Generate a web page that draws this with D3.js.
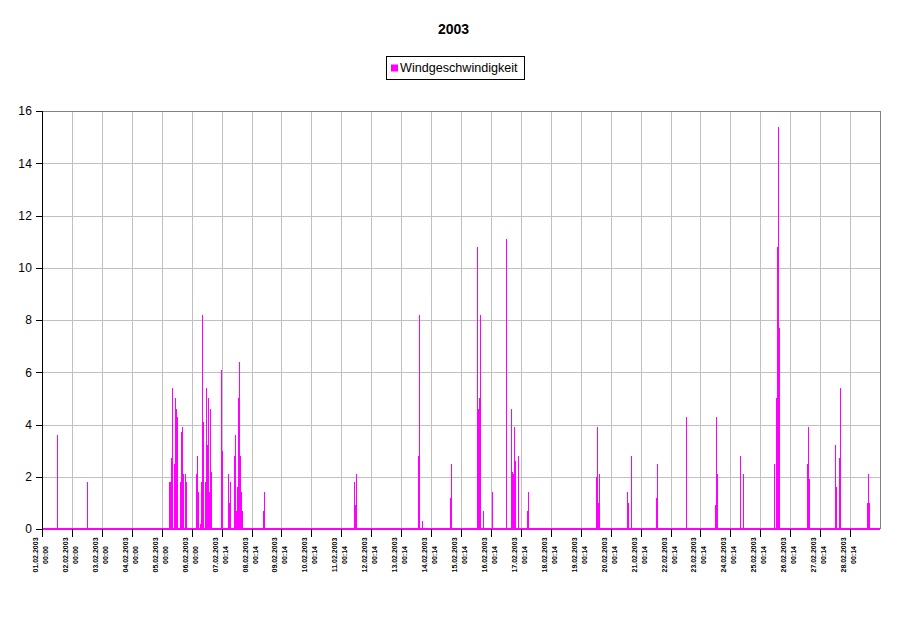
<!DOCTYPE html>
<html>
<head>
<meta charset="utf-8">
<script src="https://cdn.jsdelivr.net/npm/d3@7"></script>
<style>
  html, body { margin: 0; padding: 0; background: #fff; }
  svg { display: block; font-family: "Liberation Sans", Arial, sans-serif; }
</style>
</head>
<body>
<svg id="chart" width="909" height="634"></svg>
<script>
// ---- data ----
const title = "2003";
const seriesName = "Windgeschwindigkeit";
// hours since 01.02.2003 00:00 (only non-zero readings; all other readings are 0)
const hours = [12.0, 36.1,
  101.9, 102.7, 103.5, 104.3, 105.9, 106.7, 107.5, 108.3, 110.7, 111.5, 112.3, 113.1, 114.7, 115.5,
  123.5, 124.3, 125.1, 126.7, 127.5, 128.3, 129.1, 130.7, 131.5, 132.3, 133.1, 133.9, 134.7, 135.5,
  143.6, 144.4, 149.2, 150.0, 150.8, 154.0, 154.8, 155.6, 156.4, 157.2, 158.0, 158.8, 159.6, 160.4,
  177.2, 178.0, 250.2, 251.0, 251.8, 301.6, 302.4, 304.8, 327.2, 328.0,
  348.9, 349.7, 350.5, 351.3, 353.7, 360.9, 372.1, 376.1, 376.9, 377.7, 378.5, 379.3, 381.8, 389.0, 389.8,
  444.3, 445.1, 445.9, 446.7, 469.2, 470.0, 472.4, 492.4, 493.2, 516.5, 539.7, 540.5, 541.4, 559.8, 562.2,
  587.1, 588.7, 589.5, 590.3, 591.1, 613.5, 614.3, 615.1, 636.0, 636.8, 639.2, 640.0, 661.7, 662.5, 663.3];
const speeds = [3.6, 1.8,
  1.8, 1.8, 2.7, 5.4, 2.5, 5.0, 4.6, 4.3, 1.8, 3.7, 3.9, 2.1, 2.1, 1.8,
  2.1, 2.8, 1.4, 0.2, 1.8, 8.2, 4.1, 1.8, 5.4, 3.2, 5.0, 1.4, 4.6, 2.2,
  6.1, 3.0, 2.1, 1.0, 1.8, 2.8, 3.6, 0.7, 1.6, 5.0, 6.4, 2.8, 1.4, 0.7,
  0.7, 1.4, 1.8, 0.9, 2.1, 2.8, 8.2, 0.3, 1.2, 2.5,
  10.8, 4.6, 5.0, 8.2, 0.7, 1.4, 11.1, 4.6, 2.2, 2.1, 3.9, 2.6, 2.8, 0.7, 1.4,
  2.0, 3.9, 1.0, 2.1, 1.4, 1.0, 2.8, 1.2, 2.5, 4.3, 0.9, 4.3, 2.1, 2.8, 2.1,
  2.5, 5.0, 10.8, 15.4, 7.7, 2.5, 3.9, 1.9, 3.2, 1.6, 2.7, 5.4, 1.0, 2.1, 1.0];
const totalHours = 672;
const tickDates = ["01.02.2003","02.02.2003","03.02.2003","04.02.2003","05.02.2003","06.02.2003","07.02.2003",
  "08.02.2003","09.02.2003","10.02.2003","11.02.2003","12.02.2003","13.02.2003","14.02.2003",
  "15.02.2003","16.02.2003","17.02.2003","18.02.2003","19.02.2003","20.02.2003","21.02.2003",
  "22.02.2003","23.02.2003","24.02.2003","25.02.2003","26.02.2003","27.02.2003","28.02.2003"];
const tickTimes = ["00:00","00:00","00:00","00:00","00:00","00:00","00:14",
  "00:14","00:14","00:14","00:14","00:14","00:14","00:14",
  "00:14","00:14","00:14","00:14","00:14","00:14","00:14",
  "00:14","00:14","00:14","00:14","00:14","00:14","00:14"];
const yTicks = [0, 2, 4, 6, 8, 10, 12, 14, 16];

// ---- layout ----
const mLeft = 42, mRight = 880, mTop = 111, mBottom = 529;
const color = "#FF00FF";
const svg = d3.select("#chart");

const x = d3.scaleLinear().domain([0, totalHours]).range([mLeft, mRight]);
const y = d3.scaleLinear().domain([0, 16]).range([mBottom, mTop]);
const tickHours = tickDates.map((d, i) => i * 24);

// grid
const grid = svg.append("g").attr("shape-rendering", "crispEdges");
grid.selectAll("line.h").data(yTicks.filter(v => v > 0 && v < 16)).join("line")
  .attr("x1", mLeft).attr("x2", mRight)
  .attr("y1", d => Math.round(y(d)) + 0.5).attr("y2", d => Math.round(y(d)) + 0.5)
  .attr("stroke", "#c0c0c0");
grid.selectAll("line.v").data(tickHours.slice(1)).join("line")
  .attr("x1", d => Math.round(x(d)) + 0.5).attr("x2", d => Math.round(x(d)) + 0.5)
  .attr("y1", mTop).attr("y2", mBottom)
  .attr("stroke", "#c0c0c0");
// border top/right
grid.append("path")
  .attr("d", `M${mLeft},${mTop + 0.5}H${mRight + 0.5}V${mBottom}`)
  .attr("fill", "none").attr("stroke", "#808080");

// bars
const barsG = svg.append("g").attr("shape-rendering", "crispEdges");
barsG.append("rect")
  .attr("x", mLeft).attr("y", mBottom - 1).attr("width", mRight - mLeft).attr("height", 2)
  .attr("fill", color);
barsG.selectAll("rect.bar").data(hours.map((h, i) => ({h, v: speeds[i]}))).join("rect")
  .attr("class", "bar")
  .attr("x", d => Math.round(x(d.h)))
  .attr("width", 1)
  .attr("y", d => y(d.v))
  .attr("height", d => mBottom - y(d.v))
  .attr("fill", color);

// y axis
const yAxis = d3.axisLeft(y).tickValues(yTicks).tickSize(7).tickPadding(3).tickFormat(d3.format("d"));
const yg = svg.append("g").attr("transform", `translate(${mLeft + 0.5},0)`).call(yAxis);
yg.select(".domain").attr("d", `M0,${mTop}V${mBottom + 0.5}`).attr("stroke", "#000");
yg.selectAll(".tick line").attr("stroke", "#000");
yg.selectAll(".tick text").attr("font-size", 12).attr("font-family", "Liberation Sans, Arial, sans-serif")
  .attr("fill", "#000").attr("letter-spacing", "0.5px");
yg.attr("shape-rendering", "crispEdges");

// x axis
const xAxis = d3.axisBottom(x).tickValues(tickHours).tickSize(8).tickFormat("");
const xg = svg.append("g").attr("transform", `translate(0,${mBottom})`).call(xAxis);
xg.select(".domain").remove();
xg.selectAll(".tick line").attr("stroke", "#000").attr("shape-rendering", "crispEdges");
xg.selectAll(".tick").each(function(d, i) {
  const t = d3.select(this).append("text")
    .attr("transform", "translate(0,26) rotate(-90)")
    .attr("text-anchor", "middle")
    .attr("font-size", 7).attr("font-weight", "bold")
    .attr("font-family", "Liberation Sans, Arial, sans-serif")
    .attr("fill", "#000");
  t.append("tspan").attr("x", 0).attr("y", -4.5).text(tickDates[i]);
  t.append("tspan").attr("x", 0).attr("y", 5.5).text(tickTimes[i]);
});

// title
svg.append("text").attr("x", 453.5).attr("y", 34).attr("text-anchor", "middle")
  .attr("font-size", 14).attr("font-weight", "bold").attr("fill", "#000").text(title);

// legend
const lg = svg.append("g");
lg.append("rect").attr("x", 386.5).attr("y", 56.5).attr("width", 138).attr("height", 23)
  .attr("fill", "#fff").attr("stroke", "#000").attr("shape-rendering", "crispEdges");
lg.append("rect").attr("x", 391).attr("y", 64.5).attr("width", 7).attr("height", 7).attr("fill", color);
lg.append("text").attr("x", 400).attr("y", 72).attr("font-size", 12.6).attr("fill", "#000").text(seriesName);
</script>
</body>
</html>
